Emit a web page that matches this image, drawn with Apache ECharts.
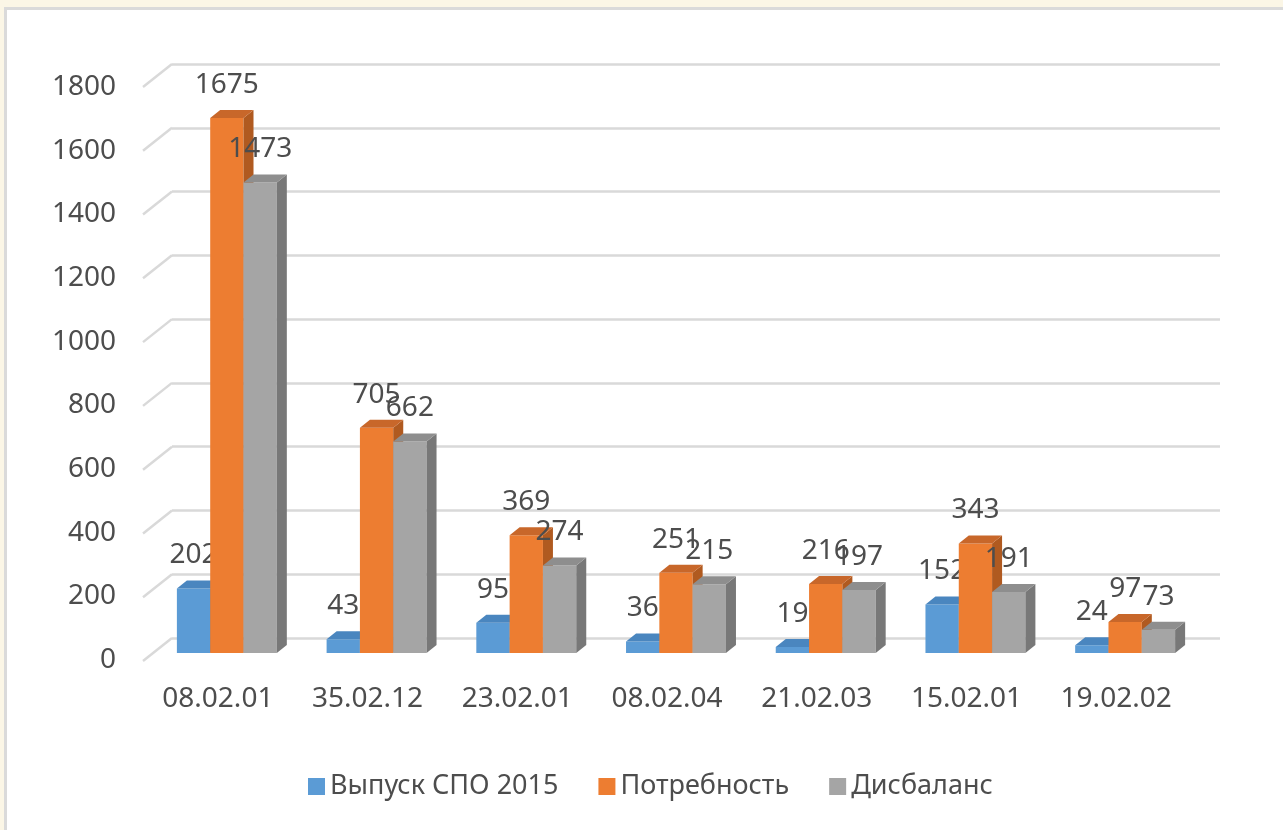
<!DOCTYPE html>
<html>
<head>
<meta charset="utf-8">
<script src="https://cdn.jsdelivr.net/npm/echarts@6/dist/echarts.min.js"></script>
<style>
html,body{margin:0;padding:0;width:1283px;height:830px;overflow:hidden;background:#fbf6e6;}
#panel{position:absolute;left:4px;top:7px;width:1300px;height:840px;background:#fff;border:3px solid #dadada;box-sizing:border-box;}
#chart{position:absolute;left:0;top:0;width:1283px;height:830px;}
</style>
</head>
<body>
<div id="panel"></div>
<div id="chart"></div>
<script>
const categories = ['08.02.01','35.02.12','23.02.01','08.02.04','21.02.03','15.02.01','19.02.02'];
const seriesNames = ['Выпуск СПО 2015','Потребность','Дисбаланс'];
const vypusk = [202, 43, 95, 36, 19, 152, 24];
const potrebnost = [1675, 705, 369, 251, 216, 343, 97];
const disbalans = [1473, 662, 274, 215, 197, 191, 73];
const yTicks = [0,200,400,600,800,1000,1200,1400,1600,1800];

const FONT = 'Noto Sans';
const TXT = '#4d4d4d';
const faces = [
  {front:'#5b9bd5', top:'#4a86bf', side:'#3f72a3'},
  {front:'#ed7d31', top:'#c8672a', side:'#b05a20'},
  {front:'#a5a5a5', top:'#8e8e8e', side:'#787878'}
];
const DX = 10, DY = 8, GROUP_SHIFT = 9, BAR_FRAC = 0.2225;

function barRenderer(s){
  return function(params, api){
    const idx = api.value(0), val = api.value(1);
    const top = api.coord([idx, val]);
    const base = api.coord([idx, 0]);
    const band = api.size([1,0])[0];
    const w = band * BAR_FRAC;
    const x0 = top[0] + GROUP_SHIFT + (s - 1.5) * w;
    const yt = top[1], yb = base[1];
    const f = faces[s];
    return {type:'group', children:[
      {type:'rect', shape:{x:x0, y:yt, width:w, height:yb-yt}, style:{fill:f.front}},
      {type:'polygon', shape:{points:[[x0+w,yt],[x0+w+DX,yt-DY],[x0+w+DX,yb-DY],[x0+w,yb]]}, style:{fill:f.side}},
      {type:'polygon', shape:{points:[[x0,yt],[x0+w,yt],[x0+w+DX,yt-DY],[x0+DX,yt-DY]]}, style:{fill:f.top}},
      {type:'text', style:{text:String(val), x:x0+w/2, y:yt-33, align:'center', verticalAlign:'middle', fill:TXT, font:'28px "Noto Sans"'}, z2:100}
    ]};
  };
}

const dataSets = [vypusk, potrebnost, disbalans];
const barSeries = dataSets.map((arr, s) => ({
  name: seriesNames[s],
  type: 'custom',
  xAxisIndex: 1, yAxisIndex: 1,
  renderItem: barRenderer(s),
  itemStyle: {color: faces[s].front},
  encode: {x:0, y:1},
  data: arr.map((v,i)=>[i, v]),
  clip: false,
  z: 3 + s
}));

const chart = echarts.init(document.getElementById('chart'), null, {renderer:'canvas'});
chart.setOption({
  backgroundColor: 'transparent',
  animation: false,
  textStyle: {fontFamily: FONT},
  legend: {
    left: 303, top: 768,
    itemWidth: 17, itemHeight: 17, itemGap: 40, itemTextGap: 7,
    icon: 'rect',
    textStyle: {fontSize: 27, color: TXT, fontFamily: FONT},
    data: seriesNames
  },
  grid: [
    {left:172, right:63, top:64, bottom:192},
    {left:143, right:92, top:78, bottom:177},
    {left:143, right:92, top:87, bottom:170}
  ],
  xAxis: [
    {gridIndex:0, type:'value', min:0, max:1, show:false},
    {gridIndex:1, type:'category', data:categories,
     axisLine:{show:false}, axisTick:{show:false},
     axisLabel:{fontSize:28, color:TXT, fontFamily:FONT, margin:32}},
    {gridIndex:2, type:'value', min:0, max:1, show:false}
  ],
  yAxis: [
    {gridIndex:0, type:'value', min:0, max:1800, interval:200,
     axisLine:{show:false}, axisTick:{show:false}, axisLabel:{show:false},
     splitLine:{lineStyle:{color:'#d9d9d9', width:2.5}}},
    {gridIndex:1, type:'value', min:0, max:1800, interval:200, show:false,
     splitLine:{show:false}},
    {gridIndex:2, type:'value', min:0, max:1800, interval:200,
     axisLine:{show:false}, axisTick:{show:false}, splitLine:{show:false},
     axisLabel:{fontSize:28, color:TXT, fontFamily:FONT, margin:27, formatter: v => String(v)}}
  ],
  series: [
    {
      type:'custom', xAxisIndex:0, yAxisIndex:0, silent:true, clip:false, z:1,
      data: yTicks.map(v=>[0, v]),
      encode:{x:0, y:1},
      renderItem: function(params, api){
        const p = api.coord([0, api.value(1)]);
        return {type:'line', shape:{x1:p[0]-29, y1:p[1]+23, x2:p[0], y2:p[1]}, style:{stroke:'#d9d9d9', lineWidth:2.5}};
      }
    }
  ].concat(barSeries)
});
</script>
</body>
</html>
